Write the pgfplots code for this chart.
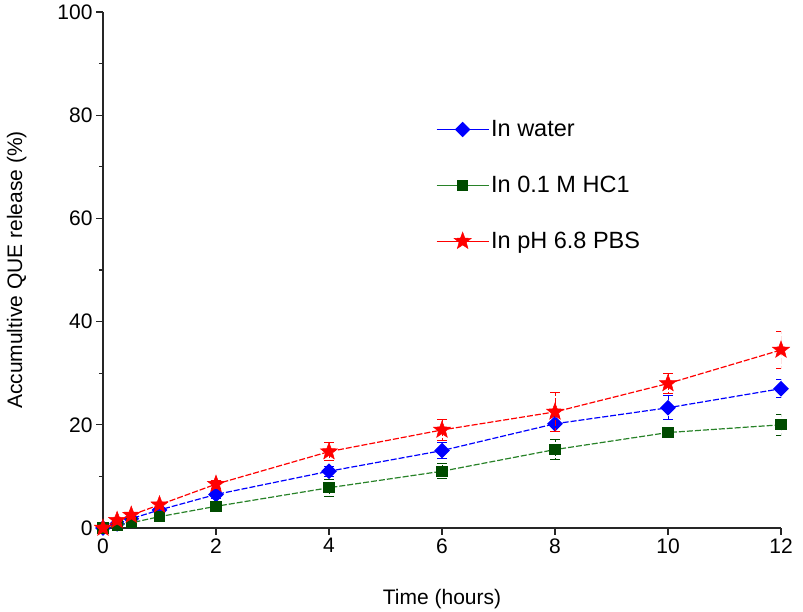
\documentclass[border=0pt]{standalone}
\usepackage{pgfplots}
\pgfplotsset{compat=1.18}
\usepackage{fontspec}
\setmainfont{Liberation Sans}
\definecolor{wblue}{RGB}{0,0,255}
\definecolor{hgreen}{RGB}{0,75,0}
\definecolor{hline}{RGB}{40,130,40}
\definecolor{pred}{RGB}{255,0,0}
\pgfdeclareplotmark{fstar}{%
  \pgfpathmoveto{\pgfpointpolar{90}{\pgfplotmarksize}}%
  \pgfpathlineto{\pgfpointpolar{126}{0.42\pgfplotmarksize}}%
  \pgfpathlineto{\pgfpointpolar{162}{\pgfplotmarksize}}%
  \pgfpathlineto{\pgfpointpolar{198}{0.42\pgfplotmarksize}}%
  \pgfpathlineto{\pgfpointpolar{234}{\pgfplotmarksize}}%
  \pgfpathlineto{\pgfpointpolar{270}{0.42\pgfplotmarksize}}%
  \pgfpathlineto{\pgfpointpolar{306}{\pgfplotmarksize}}%
  \pgfpathlineto{\pgfpointpolar{342}{0.42\pgfplotmarksize}}%
  \pgfpathlineto{\pgfpointpolar{18}{\pgfplotmarksize}}%
  \pgfpathlineto{\pgfpointpolar{54}{0.42\pgfplotmarksize}}%
  \pgfpathclose
  \pgfusepathqfillstroke}
\pgfdeclareplotmark{wdiamond}{%
  \pgfpathmoveto{\pgfqpoint{0pt}{\pgfplotmarksize}}%
  \pgfpathlineto{\pgfqpoint{\pgfplotmarksize}{0pt}}%
  \pgfpathlineto{\pgfqpoint{0pt}{-\pgfplotmarksize}}%
  \pgfpathlineto{\pgfqpoint{-\pgfplotmarksize}{0pt}}%
  \pgfpathclose
  \pgfusepathqfillstroke}
\begin{document}
\begin{tikzpicture}
\begin{axis}[
  scale only axis,
  width=678pt, height=516pt,
  xmin=0, xmax=12, ymin=0, ymax=100,
  axis x line*=bottom, axis y line*=left,
  axis line style={line width=1.4pt, black!85},
  xtick={0,2,...,12}, ytick={0,20,...,100},
  minor ytick={10,30,...,90},
  tick align=outside,
  major tick length=7pt, minor tick length=4pt,
  tick style={line width=1.3pt, black!85},
  /pgf/number format/assume math mode=true,
  tick label style={font=\fontsize{21}{25}\selectfont},
  label style={font=\fontsize{21}{25}\selectfont},
  xlabel={Time (hours)},
  ylabel={Accumultive QUE release (\%)},
  xlabel style={yshift=-29pt},
  ylabel style={yshift=24pt},
  clip mode=individual,
  error bars/error bar style={line width=1pt},
  error bars/error mark options={rotate=90, mark size=5pt, line width=1pt},
  legend style={draw=none, fill=none, at={(axis cs:5.84,66.4)}, anchor=west,
    font=\fontsize{23.5}{28}\selectfont, row sep=34pt, cells={anchor=west}},
  legend cell align=left,
  legend image code/.code={\draw[solid,mark repeat=2,mark phase=2,line width=1pt] plot coordinates {(0pt,0pt) (26pt,0pt) (52pt,0pt)};},
]
\addplot[color=wblue, line width=1.2pt, dash pattern=on 6pt off 2pt,
  mark=wdiamond, mark size=7pt, mark options={solid, fill=wblue},
  error bars/.cd, y dir=both, y explicit]
  table[x=x, y=y, y error=e] {
x y e
0 0 0
0.25 0.8 0.3
0.5 1.8 0.4
1 3.5 0.5
2 6.5 0.8
4 11 1.0
6 15 1.5
8 20.2 1.5
10 23.3 2.3
12 27 1.8
};
\addlegendentry{In water}
\addplot[color=hline, line width=1.2pt, dash pattern=on 6pt off 2pt,
  mark=square*, mark size=5pt, mark options={solid, draw=hgreen, fill=hgreen},
  error bars/.cd, y dir=both, y explicit, error bar style={color=hgreen}]
  table[x=x, y=y, y error=e] {
x y e
0 0 0
0.25 0.5 0.3
0.5 1.0 0.4
1 2.2 0.5
2 4.2 0.8
4 7.8 1.6
6 11 1.5
8 15.2 2.0
10 18.5 1.0
12 20 2.0
};
\addlegendentry{In 0.1 M HC1}
\addplot[color=pred, line width=1.2pt, dash pattern=on 6pt off 2pt,
  mark=fstar, mark size=9pt, mark options={solid, fill=pred, line width=0.5pt},
  error bars/.cd, y dir=both, y explicit]
  table[x=x, y=y, y error=e] {
x y e
0 0 0
0.25 1.5 0.3
0.5 2.5 0.4
1 4.5 0.5
2 8.5 0.8
4 14.8 1.8
6 19 2.0
8 22.5 3.8
10 28 2.0
12 34.5 3.5
};
\addlegendentry{In pH 6.8 PBS}
\coordinate (bl) at (rel axis cs:0,0);
\coordinate (tr) at (rel axis cs:1,1);
\end{axis}
\pgfresetboundingbox
\path ([xshift=-103pt,yshift=-84pt]bl) rectangle ([xshift=22pt,yshift=12pt]tr);
\end{tikzpicture}
\end{document}
